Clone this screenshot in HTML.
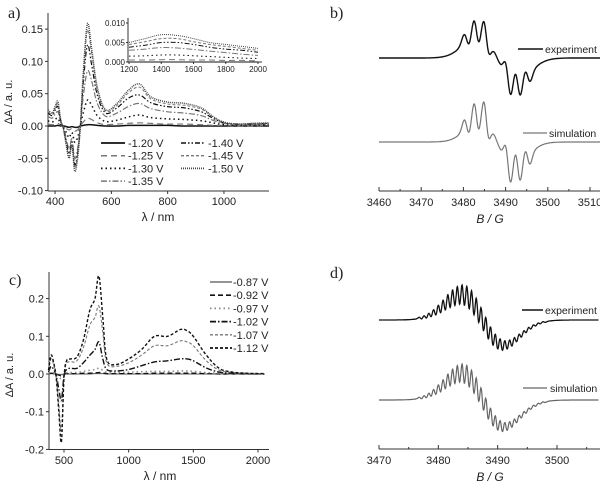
<!DOCTYPE html>
<html><head><meta charset="utf-8">
<style>
body{margin:0;background:#fff;}
svg{display:block;font-family:"Liberation Sans",sans-serif;}
</style></head>
<body>
<svg id="fig" width="600" height="481" viewBox="0 0 600 481" xmlns="http://www.w3.org/2000/svg">
<rect width="600" height="481" fill="#fff"/>
</svg>
<script>
// ---------- Panel a data ----------
const aX=[375,390,400,410,420,430,440,450,460,470,480,490,500,515,530,550,580,620,660,700,740,800,860,920,960,1000,1050,1100,1160];
const aNames=["-1.20 V","-1.25 V","-1.30 V","-1.35 V","-1.40 V","-1.45 V","-1.50 V"];
const aS120=[0,0,0,0.001,0,0,-0.001,-0.002,-0.001,-0.002,-0.002,0,0.001,0.002,0.002,0.001,0,0,0.001,0.001,0.001,0.001,0,0,0,0,0,0,0];
const aS125=[0.003,0.002,0.003,0.004,0.001,-0.001,-0.004,-0.006,-0.004,-0.008,-0.006,0,0.006,0.012,0.01,0.005,0.002,0.003,0.004,0.005,0.004,0.003,0.003,0.002,0.001,0.001,0,0,0.001];
const aS130=[0.008,0.006,0.01,0.012,0.003,-0.002,-0.01,-0.018,-0.01,-0.025,-0.018,0,0.02,0.04,0.032,0.016,0.007,0.009,0.014,0.017,0.013,0.011,0.01,0.008,0.005,0.002,0.001,0.001,0.002];
const aS135=[0.015,0.012,0.018,0.022,0.006,-0.003,-0.02,-0.035,-0.02,-0.05,-0.035,0,0.045,0.085,0.07,0.035,0.015,0.02,0.03,0.035,0.027,0.022,0.02,0.016,0.009,0.004,0.002,0.002,0.003];
const aS140=[0.02,0.016,0.024,0.03,0.008,-0.004,-0.025,-0.043,-0.025,-0.06,-0.042,0,0.065,0.125,0.095,0.048,0.02,0.028,0.043,0.048,0.036,0.03,0.028,0.022,0.012,0.005,0.003,0.003,0.004];
const aS145=[0.022,0.018,0.027,0.034,0.009,-0.005,-0.028,-0.047,-0.028,-0.065,-0.046,0,0.075,0.148,0.112,0.056,0.023,0.032,0.051,0.06,0.042,0.034,0.032,0.026,0.014,0.005,0.003,0.004,0.004];
const aS150=[0.025,0.02,0.03,0.038,0.01,-0.005,-0.03,-0.05,-0.03,-0.07,-0.05,0,0.08,0.158,0.12,0.06,0.025,0.035,0.055,0.065,0.045,0.037,0.035,0.028,0.015,0.006,0.003,0.004,0.005];
const aYTicks=[-0.10,-0.05,0.00,0.05,0.10,0.15];
const aXTicks=[400,600,800,1000];
// inset
const iX=[1200,1300,1400,1500,1600,1700,1800,1900,2000];
const iS120=[0,0,0,0,0,0,0,0,0];
const iS125=[0.0005,0.0005,0.0006,0.0006,0.0005,0.0005,0.0004,0.0004,0.0003];
const iS130=[0.0015,0.0016,0.0018,0.0018,0.0016,0.0014,0.0012,0.001,0.0009];
const iS135=[0.003,0.0033,0.0037,0.0036,0.0032,0.0028,0.0024,0.002,0.0017];
const iS140=[0.0038,0.0043,0.005,0.005,0.0045,0.0038,0.0033,0.003,0.0025];
const iS145=[0.0045,0.0052,0.006,0.006,0.0052,0.0045,0.004,0.0035,0.003];
const iS150=[0.005,0.006,0.007,0.0068,0.006,0.005,0.0045,0.004,0.0035];
const iYTicks=[0.000,0.005,0.010];
const iXTicks=[1200,1400,1600,1800,2000];
// ---------- Panel c data ----------
const cX=[380,400,420,440,460,480,500,520,550,600,650,700,740,770,800,830,900,1000,1100,1200,1300,1400,1450,1500,1600,1700,1800,1900,2050];
const cNames=["-0.87 V","-0.92 V","-0.97 V","-1.02 V","-1.07 V","-1.12 V"];
const cS087=[0,0.001,0,0,-0.001,-0.001,0,0,0,0,0,0,0.001,0.001,0.001,0,0,0,0,0,0,0,0,0,0,0,0,0,0];
const cS092=[0.001,0.002,0.001,0,-0.003,-0.005,-0.001,0.001,0.001,0.001,0.002,0.002,0.003,0.004,0.003,0.001,0.001,0.001,0.001,0.002,0.002,0.002,0.002,0.002,0.001,0,0,0,0];
const cS097=[0.002,0.005,0.003,-0.001,-0.008,-0.012,-0.002,0.003,0.004,0.004,0.007,0.01,0.012,0.015,0.01,0.005,0.004,0.005,0.006,0.007,0.007,0.008,0.008,0.007,0.004,0.002,0.001,0,0];
const cS102=[0.005,0.02,0.012,-0.004,-0.04,-0.07,-0.005,0.012,0.015,0.015,0.03,0.05,0.065,0.085,0.04,0.012,0.008,0.012,0.022,0.032,0.035,0.04,0.04,0.035,0.016,0.005,0.002,0.001,0];
const cS107=[0.008,0.04,0.025,-0.008,-0.08,-0.15,-0.008,0.028,0.032,0.035,0.07,0.13,0.15,0.18,0.11,0.03,0.02,0.03,0.05,0.075,0.075,0.088,0.085,0.075,0.035,0.01,0.004,0.002,0.001];
const cS112=[0.01,0.05,0.03,-0.01,-0.1,-0.18,-0.01,0.035,0.04,0.045,0.09,0.17,0.2,0.26,0.15,0.04,0.025,0.04,0.065,0.1,0.1,0.118,0.115,0.1,0.05,0.015,0.005,0.002,0.001];
const cYTicks=[-0.2,-0.1,0.0,0.1,0.2];
const cXTicks=[500,1000,1500,2000];
// ---------- Panel b data (broad envelope + hyperfine lines) ----------
const bBroadPos=[3488];
const bBroadInt=[10];
const bLinePos=[3480.8,3483.1,3485.4,3490.6,3492.9,3495.2];
const bLineInt=[0.8,1.3,1.3,1.3,1.3,0.8];
const bXTicks=[3460,3470,3480,3490,3500,3510];
// ---------- Panel d data ----------
const dLinePos=[3477,3477.8,3478.6,3479.4,3480.2,3481,3481.8,3482.6,3483.4,3484.2,3485,3485.8,3486.6,3487.4,3488.2,3489,3489.8,3490.6,3491.4,3492.2,3493,3493.8,3494.6,3495.4,3496.2,3497,3497.8];
const dLineInt=[0.5,0.8,1.2,1.8,2.5,3.2,4,4.6,5,5.4,5.6,5.6,5.4,5,4.6,4,3.4,2.9,2.4,2,1.6,1.3,1,0.8,0.6,0.4,0.3];
const dXTicks=[3470,3480,3490,3500];

const NS="http://www.w3.org/2000/svg";
const svg=document.getElementById('fig');
function mk(tag,attrs,parent){const e=document.createElementNS(NS,tag);for(const k in attrs)e.setAttribute(k,attrs[k]);(parent||svg).appendChild(e);return e;}
function lin(d0,d1,p0,p1){return v=>p0+(v-d0)*(p1-p0)/(d1-d0);}
function smooth(pts){let d='M'+pts[0][0].toFixed(1)+','+pts[0][1].toFixed(1);
 for(let i=0;i<pts.length-1;i++){const p0=pts[i-1]||pts[i],p1=pts[i],p2=pts[i+1],p3=pts[i+2]||p2;
  const c1x=p1[0]+(p2[0]-p0[0])/6,c1y=p1[1]+(p2[1]-p0[1])/6,c2x=p2[0]-(p3[0]-p1[0])/6,c2y=p2[1]-(p3[1]-p1[1])/6;
  d+=' C'+c1x.toFixed(1)+','+c1y.toFixed(1)+' '+c2x.toFixed(1)+','+c2y.toFixed(1)+' '+p2[0].toFixed(1)+','+p2[1].toFixed(1);}
 return d;}
function txt(x,y,s,attrs,name){const t=mk('text',Object.assign({x:x,y:y,'font-size':11,fill:'#222'},attrs||{}));t.textContent=s;
 
 return t;}

// ===== Panel a =====
const ax=lin(375,1160,48,269), ay=lin(0,0.05,126,93.7);
const gA=mk('g',{});


txt(8,18,'a)',{'font-family':'Liberation Serif,serif','font-size':16},'panel-a-label');
mk('line',{x1:48,y1:191,x2:269,y2:191,stroke:'#333','stroke-width':1},gA);
mk('line',{x1:48,y1:13,x2:48,y2:191,stroke:'#333','stroke-width':1},gA);
aYTicks.forEach(v=>{const y=ay(v);mk('line',{x1:45,y1:y,x2:48,y2:y,stroke:'#333'},gA);
 txt(43,y+4,v.toFixed(2),{'text-anchor':'end'},'y-tick-label');});
aXTicks.forEach(v=>{const x=ax(v);mk('line',{x1:x,y1:191,x2:x,y2:194,stroke:'#333'},gA);
 txt(x,205,String(v),{'text-anchor':'middle'},'x-tick-label');});
txt(12,102,'ΔA / a. u.',{'text-anchor':'middle',transform:'rotate(-90 12 102)'},'y-axis-title');
txt(158,221,'λ / nm',{'text-anchor':'middle','font-size':12},'x-axis-title');
const aSeries=[aS120,aS125,aS130,aS135,aS140,aS145,aS150];
const aStyle=[['#111','',1.5],['#777','6 4',1.2],['#111','1.5 3',1.5],['#777','6 2 1.5 2',1.2],['#111','5 2 1.5 2 1.5 2',1.2],['#777','3 2',1],['#444','1 1',1.5]];
aSeries.forEach((s,i)=>{const p=mk('path',{d:smooth(aX.map((x,j)=>[ax(x),ay(s[j])])),fill:'none',stroke:aStyle[i][0],'stroke-width':aStyle[i][2],'stroke-dasharray':aStyle[i][1]},gA);
 
 });
aNames.forEach((n,i)=>{const col=i<4?0:1,row=i<4?i:i-4;const x0=col?181:101,y=143+row*12.7;
 const l=mk('line',{x1:x0,y1:y,x2:x0+24,y2:y,stroke:aStyle[i][0],'stroke-width':aStyle[i][2]+0.3,'stroke-dasharray':aStyle[i][1]},gA);
 
 
 txt(x0+27,y+4,n,{},'legend-entry');});
const ix=lin(1200,2000,129,258), iy=lin(0,0.01,62,23);
mk('line',{x1:128,y1:62,x2:262,y2:62,stroke:'#333'},gA);
mk('line',{x1:128,y1:18,x2:128,y2:62,stroke:'#333'},gA);
iYTicks.forEach(v=>{const y=iy(v);mk('line',{x1:126,y1:y,x2:128,y2:y,stroke:'#333'},gA);
 txt(125,y+3,v.toFixed(3),{'text-anchor':'end','font-size':8},'inset-y-tick-label');});
iXTicks.forEach(v=>{const x=ix(v);mk('line',{x1:x,y1:62,x2:x,y2:64,stroke:'#333'},gA);
 txt(x,72,String(v),{'text-anchor':'middle','font-size':8},'inset-x-tick-label');});
[iS120,iS125,iS130,iS135,iS140,iS145,iS150].forEach((s,i)=>{const p=mk('path',{d:smooth(iX.map((x,j)=>[ix(x),iy(s[j])])),fill:'none',stroke:aStyle[i][0],'stroke-width':1,'stroke-dasharray':aStyle[i][1]},gA);
 
 });

// ===== Panel c =====
const cx=lin(500,2000,64,258), cy=lin(0,0.1,374,336.3);
const gC=mk('g',{});


txt(9,285,'c)',{'font-family':'Liberation Serif,serif','font-size':16},'panel-c-label');
mk('line',{x1:49,y1:449.5,x2:269,y2:449.5,stroke:'#333'},gC);
mk('line',{x1:49,y1:272,x2:49,y2:449.5,stroke:'#333'},gC);
cYTicks.forEach(v=>{const y=cy(v);mk('line',{x1:46,y1:y,x2:49,y2:y,stroke:'#333'},gC);
 txt(44,y+4,v.toFixed(1),{'text-anchor':'end'},'y-tick-label');});
cXTicks.forEach(v=>{const x=cx(v);mk('line',{x1:x,y1:449.5,x2:x,y2:452.5,stroke:'#333'},gC);
 txt(x,464,String(v),{'text-anchor':'middle'},'x-tick-label');});
txt(13,375,'ΔA / a. u.',{'text-anchor':'middle',transform:'rotate(-90 13 375)'},'y-axis-title');
txt(160,480,'λ / nm',{'text-anchor':'middle','font-size':12},'x-axis-title');
const cSeries=[cS087,cS092,cS097,cS102,cS107,cS112];
const cStyle=[['#555','',1],['#111','5 3',1.3],['#888','1.5 3',1.5],['#111','6 2 1.5 2',1.4],['#777','3 2',1.1],['#111','3 2',1.4]];
cSeries.forEach((s,i)=>{const p=mk('path',{d:smooth(cX.map((x,j)=>[cx(x),cy(s[j])])),fill:'none',stroke:cStyle[i][0],'stroke-width':cStyle[i][2],'stroke-dasharray':cStyle[i][1]},gC);
 
 });
cNames.forEach((n,i)=>{const y=282+i*13.2;
 const l=mk('line',{x1:210,y1:y,x2:232,y2:y,stroke:cStyle[i][0],'stroke-width':cStyle[i][2]+0.3,'stroke-dasharray':cStyle[i][1]},gC);
 
 
 txt(233,y+4,n,{},'legend-entry');});

// ===== ESR helpers =====
function deriv(B,pos,ints,w){let s=0;for(let k=0;k<pos.length;k++){const u=(B-pos[k])/w;s+=-ints[k]*u*Math.exp(-u*u/2);}return s;}
function esrPath(x0,x1,bx,base,amp,fn,g,color,sw,name){const N=700;const vals=[];let m=0;
 for(let i=0;i<=N;i++){const B=x0+(x1-x0)*i/N;const v=fn(B);vals.push([B,v]);m=Math.max(m,Math.abs(v));}
 let d='';vals.forEach((p,i)=>{d+=(i?'L':'M')+bx(p[0]).toFixed(1)+','+(base-p[1]/m*amp).toFixed(1);});
 const e=mk('path',{d:d,fill:'none',stroke:color,'stroke-width':sw},g);
 
 }

// ===== Panel b =====
const bx=lin(3460,3510,379,590);
const gB=mk('g',{});


txt(330,18,'b)',{'font-family':'Liberation Serif,serif','font-size':16},'panel-b-label');
mk('line',{x1:379,y1:191,x2:600,y2:191,stroke:'#333'},gB);
for(let v=3460;v<=3515;v+=5){const x=bx(v);mk('line',{x1:x,y1:191,x2:x,y2:v%10?189:187,stroke:'#333'},gB);}
bXTicks.forEach(v=>txt(bx(v),206,String(v),{'text-anchor':'middle'},'x-tick-label'));
txt(490,223,'B / G',{'text-anchor':'middle','font-size':12,'font-style':'italic'},'x-axis-title');
const bFn=B=>deriv(B,bBroadPos,bBroadInt,4.2)*0.25+deriv(B,bLinePos,bLineInt,0.7);
esrPath(3460,3515.5,bx,58,37,bFn,gB,'#111',1.4,'experiment-spectrum');
esrPath(3460,3515.5,bx,142,40,B=>deriv(B,bBroadPos,bBroadInt,3.9)*0.22+deriv(B,bLinePos,bLineInt,0.65),gB,'#777',1.2,'simulation-spectrum');
mk('line',{x1:518,y1:49,x2:543,y2:49,stroke:'#111','stroke-width':1.4},gB);
txt(545,53,'experiment',{'font-size':10.5},'legend-experiment');
mk('line',{x1:523,y1:133,x2:547,y2:133,stroke:'#777','stroke-width':1.2},gB);
txt(549,137,'simulation',{'font-size':10.5},'legend-simulation');

// ===== Panel d =====
const dx=lin(3470,3500,379,557);
const gD=mk('g',{});


txt(330,278,'d)',{'font-family':'Liberation Serif,serif','font-size':16},'panel-d-label');
mk('line',{x1:379,y1:449,x2:600,y2:449,stroke:'#333'},gD);
for(let v=3470;v<=3505;v+=5){const x=dx(v);mk('line',{x1:x,y1:449,x2:x,y2:v%10?447:445,stroke:'#333'},gD);}
dXTicks.forEach(v=>txt(dx(v),464,String(v),{'text-anchor':'middle'},'x-tick-label'));
txt(490,481,'B / G',{'text-anchor':'middle','font-size':12,'font-style':'italic'},'x-axis-title');
const dBroad=B=>deriv(B,[3487.5],[9],3.6);
esrPath(3470,3507,dx,320,35,B=>dBroad(B)+deriv(B,dLinePos,dLineInt,0.25)*0.9,gD,'#111',1.3,'experiment-spectrum');
esrPath(3470,3507,dx,400,36,B=>dBroad(B)+deriv(B,dLinePos,dLineInt,0.25)*0.8,gD,'#666',1.2,'simulation-spectrum');
mk('line',{x1:522,y1:310,x2:543,y2:310,stroke:'#111','stroke-width':1.4},gD);
txt(545,314,'experiment',{'font-size':10.5},'legend-experiment');
mk('line',{x1:523,y1:388,x2:547,y2:388,stroke:'#666','stroke-width':1.2},gD);
txt(550,392,'simulation',{'font-size':10.5},'legend-simulation');
</script>
</body></html>
